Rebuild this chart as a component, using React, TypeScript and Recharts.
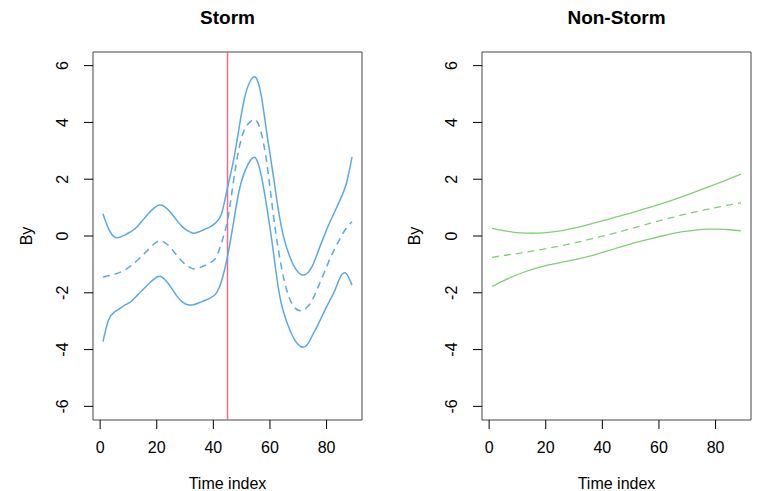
import { LineChart, Line, XAxis, YAxis, ReferenceArea, ReferenceLine } from "recharts";

const FONT = "'Liberation Sans', Arial, Helvetica, sans-serif";

// time index, storm curves (sampled every 2 steps)
const stormX = [
  1, 3, 5, 7, 9, 11, 13, 15, 17, 19, 21, 23, 25, 27, 29, 31, 33, 35, 37, 39, 41, 43, 45,
  47, 49, 51, 53, 55, 57, 59, 61, 63, 65, 67, 69, 71, 73, 75, 77, 79, 81, 83, 85, 87, 89,
];
const stormUpper = [
  0.78, 0.25, -0.03, -0.04, 0.05, 0.16, 0.32, 0.55, 0.78, 0.98, 1.09, 1.02, 0.82, 0.56, 0.33,
  0.18, 0.1, 0.15, 0.24, 0.33, 0.48, 0.82, 1.7, 2.6, 3.75, 4.85, 5.45, 5.58, 4.9, 3.55, 2.25,
  0.9, -0.1, -0.72, -1.15, -1.36, -1.33, -1.05, -0.55, -0.03, 0.45, 0.88, 1.32, 1.85, 2.79,
];
const stormMean = [
  -1.45, -1.4, -1.35, -1.28, -1.18, -1.04, -0.87, -0.68, -0.48, -0.28, -0.18, -0.24, -0.42,
  -0.67, -0.9, -1.07, -1.16, -1.12, -1.04, -0.94, -0.75, -0.2, 0.55, 1.85, 3.05, 3.75, 4.02,
  4.08, 3.6, 2.5, 0.9, -0.5, -1.55, -2.22, -2.55, -2.63, -2.52, -2.25, -1.8, -1.33, -0.85,
  -0.43, -0.05, 0.28, 0.5,
];
const stormLower = [
  -3.72, -2.95, -2.68, -2.55, -2.42, -2.3, -2.1, -1.9, -1.7, -1.52, -1.42, -1.55, -1.8, -2.1,
  -2.32, -2.42, -2.42, -2.35, -2.27, -2.18, -2.02, -1.55, -0.72, 0.4, 1.55, 2.25, 2.65, 2.74,
  2.1, 0.95, -0.4, -1.85, -2.75, -3.3, -3.7, -3.9, -3.85, -3.5, -3.12, -2.7, -2.3, -1.9, -1.42,
  -1.33, -1.73,
];

// non-storm curves (sampled every 4 steps)
const calmX = [1, 5, 9, 13, 17, 21, 25, 29, 33, 37, 41, 45, 49, 53, 57, 61, 65, 69, 73, 77, 81, 85, 89];
const calmUpper = [
  0.27, 0.19, 0.13, 0.1, 0.1, 0.13, 0.18, 0.26, 0.35, 0.45, 0.56, 0.67, 0.78, 0.9, 1.02, 1.14,
  1.27, 1.41, 1.56, 1.71, 1.86, 2.02, 2.18,
];
const calmMean = [
  -0.75, -0.69, -0.63, -0.57, -0.5, -0.43, -0.35, -0.27, -0.18, -0.08, 0.02, 0.12, 0.23, 0.34,
  0.45, 0.56, 0.66, 0.76, 0.85, 0.94, 1.02, 1.1, 1.17,
];
const calmLower = [
  -1.78, -1.58, -1.4, -1.25, -1.12, -1.02, -0.94, -0.86, -0.77, -0.67, -0.55, -0.43, -0.31,
  -0.2, -0.1, 0.0, 0.09, 0.16, 0.21, 0.24, 0.24, 0.22, 0.18,
];

const xTicks = [0, 20, 40, 60, 80];
const yTicks = [-6, -4, -2, 0, 2, 4, 6];
const stormOnset = 45;

const X_DOMAIN: [number, number] = [-2.52, 92.52];
const Y_DOMAIN: [number, number] = [-6.48, 6.48];

const toRows = (xs: number[], up: number[], mid: number[], low: number[]) =>
  xs.map((x, i) => ({ x, upper: up[i], mean: mid[i], lower: low[i] }));

const XTick = ({ x, y, payload }: any) => (
  <text x={x} y={y + 24} textAnchor="middle" fontSize={16} fontFamily={FONT} fill="#000">
    {payload.value}
  </text>
);

const YTick = ({ x, y, payload }: any) => {
  const bx = x - 15.8;
  return (
    <text
      x={bx}
      y={y}
      transform={`rotate(-90 ${bx} ${y})`}
      textAnchor="middle"
      fontSize={16}
      fontFamily={FONT}
      fill="#000"
    >
      {payload.value}
    </text>
  );
};

interface PanelProps {
  rows: any[];
  color: string;
  width: number;
  yWidth: number;
  right: number;
  lineWidth: number;
  onset?: number;
}

const Panel = ({ rows, color, width, yWidth, right, lineWidth, onset }: PanelProps) => (
  <LineChart width={width} height={491} data={rows} margin={{ top: 52, right, bottom: 0, left: 0 }}>
    <XAxis
      type="number"
      dataKey="x"
      domain={X_DOMAIN}
      ticks={xTicks}
      interval={0}
      allowDataOverflow
      height={71}
      tickSize={9}
      tickMargin={0}
      axisLine={false}
      tickLine={{ stroke: "#000" }}
      tick={XTick}
    />
    <YAxis
      type="number"
      domain={Y_DOMAIN}
      ticks={yTicks}
      interval={0}
      allowDataOverflow
      width={yWidth}
      tickSize={9}
      tickMargin={0}
      axisLine={false}
      tickLine={{ stroke: "#000" }}
      tick={YTick}
    />
    <ReferenceArea
      x1={X_DOMAIN[0]}
      x2={X_DOMAIN[1]}
      y1={Y_DOMAIN[0]}
      y2={Y_DOMAIN[1]}
      fill="none"
      fillOpacity={0}
      stroke="#444"
      strokeWidth={1}
      ifOverflow="visible"
    />
    {onset !== undefined && (
      <ReferenceLine x={onset} stroke="#ec6f8a" strokeOpacity={1} strokeWidth={1.5} />
    )}
    <Line type="natural" dataKey="upper" stroke={color} strokeWidth={lineWidth} dot={false} activeDot={false} isAnimationActive={false} />
    <Line type="natural" dataKey="mean" stroke={color} strokeWidth={lineWidth} strokeDasharray="7 5" dot={false} activeDot={false} isAnimationActive={false} />
    <Line type="natural" dataKey="lower" stroke={color} strokeWidth={lineWidth} dot={false} activeDot={false} isAnimationActive={false} />
  </LineChart>
);

export default function App() {
  const stormRows = toRows(stormX, stormUpper, stormMean, stormLower);
  const calmRows = toRows(calmX, calmUpper, calmMean, calmLower);

  return (
    <div style={{ position: "absolute", left: 0, top: 0, width: 757, height: 491, background: "#fff" }}>
      <div style={{ position: "absolute", left: 0, top: 0 }}>
        <Panel rows={stormRows} color="#5aa9e6" width={380} yWidth={93} right={18} lineWidth={1.5} onset={stormOnset} />
      </div>
      <div style={{ position: "absolute", left: 380, top: 0 }}>
        <Panel rows={calmRows} color="#7fd074" width={377} yWidth={102} right={6} lineWidth={1.3} />
      </div>
      <svg
        width={757}
        height={491}
        style={{ position: "absolute", left: 0, top: 0, pointerEvents: "none" }}
        fontFamily={FONT}
      >
        <text x={227.5} y={23.6} textAnchor="middle" fontSize={19} fontWeight="bold" fill="#000">
          Storm
        </text>
        <text x={616.5} y={23.6} textAnchor="middle" fontSize={19} fontWeight="bold" fill="#000">
          Non-Storm
        </text>
        <text x={227.5} y={488.8} textAnchor="middle" fontSize={16} fill="#000">
          Time index
        </text>
        <text x={616.5} y={488.8} textAnchor="middle" fontSize={16} fill="#000">
          Time index
        </text>
        <text x={31.5} y={236} transform="rotate(-90 31.5 236)" textAnchor="middle" fontSize={16} fill="#000">
          By
        </text>
        <text x={419.8} y={236} transform="rotate(-90 419.8 236)" textAnchor="middle" fontSize={16} fill="#000">
          By
        </text>
      </svg>
    </div>
  );
}
